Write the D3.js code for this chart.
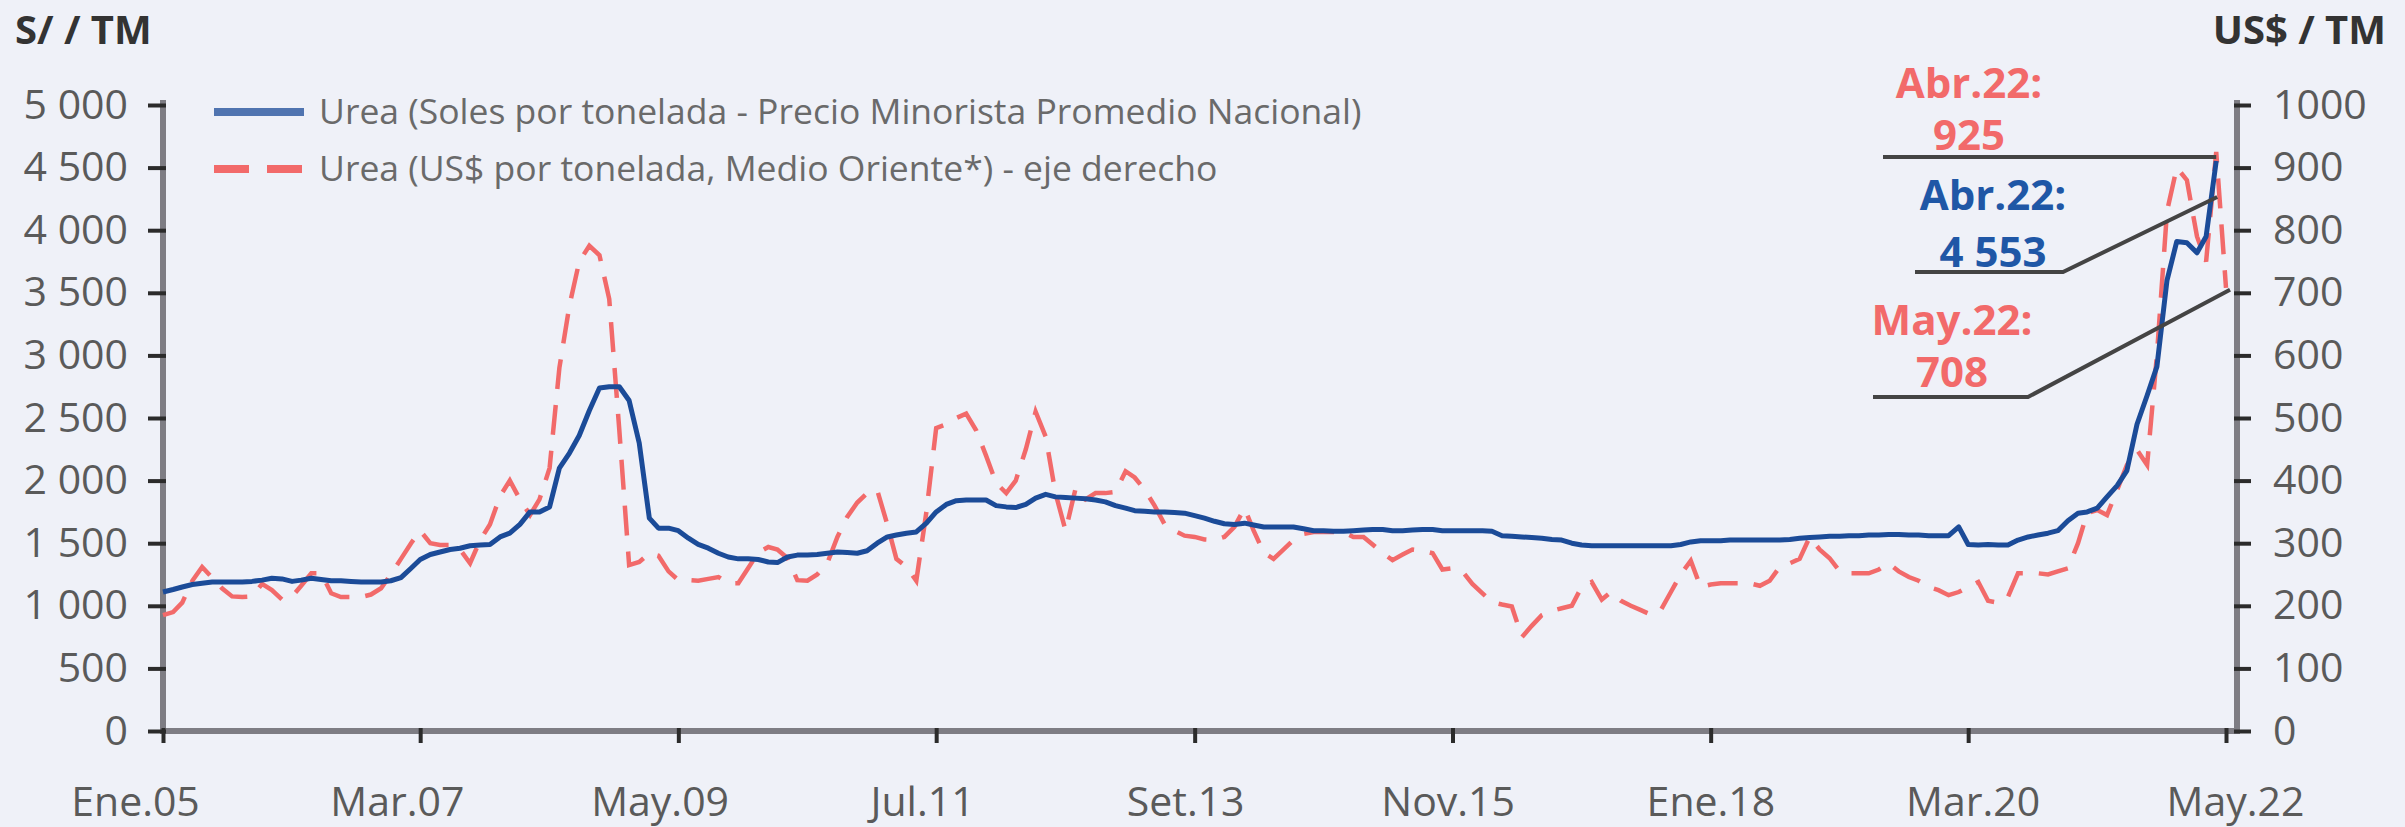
<!DOCTYPE html>
<html><head><meta charset="utf-8">
<script src="https://cdn.jsdelivr.net/npm/d3@7"></script>
<style>
html,body{margin:0;padding:0;background:#eff1f8;}
svg{display:block;}
text{font-family:"Open Sans","Noto Sans",sans-serif;}
</style></head><body>
<svg id="chart" width="2405" height="827"></svg>
<script>
// ---- DATA ----
const seriesStart = [2005, 0]; // Ene.05, monthly
const ureaSoles = [1110,1130,1150,1170,1180,1190,1190,1190,1190,1195,
1205,1220,1215,1195,1205,1220,1210,1200,1200,1195,
1190,1190,1190,1200,1225,1300,1370,1410,1430,1450,
1460,1480,1485,1490,1550,1580,1650,1750,1750,1790,
2100,2220,2360,2560,2740,2750,2750,2640,2300,1700,
1620,1620,1600,1540,1490,1460,1420,1390,1375,1375,
1370,1350,1345,1390,1405,1405,1410,1420,1430,1425,
1420,1440,1500,1550,1565,1580,1590,1660,1750,1810,
1840,1845,1845,1845,1800,1790,1785,1810,1860,1890,
1870,1865,1860,1855,1845,1830,1800,1780,1760,1755,
1750,1750,1745,1740,1720,1700,1675,1655,1650,1660,
1645,1630,1630,1630,1630,1615,1600,1600,1595,1595,
1600,1605,1610,1610,1600,1600,1605,1610,1610,1600,
1600,1600,1600,1600,1595,1560,1555,1550,1545,1540,
1530,1525,1500,1485,1480,1480,1480,1480,1480,1480,
1480,1480,1480,1490,1510,1520,1520,1520,1525,1525,
1525,1525,1525,1525,1530,1540,1545,1550,1555,1555,
1560,1560,1565,1565,1570,1570,1565,1565,1560,1560,
1560,1630,1490,1485,1490,1485,1485,1525,1550,1565,
1580,1600,1680,1740,1750,1780,1870,1960,2080,2450,
2680,2910,3600,3910,3900,3820,3950,4553];
const ureaUsd = [185,190,205,240,262,245,228,215,214,215,
235,225,210,215,232,252,252,220,214,214,
214,218,228,250,275,300,320,300,297,297,
290,268,305,330,375,400,370,345,370,420,
580,680,750,775,760,690,480,265,270,284,
280,255,241,241,240,243,246,236,236,260,
285,294,290,276,241,240,250,268,310,342,
365,380,385,330,275,262,240,350,484,490,
500,507,480,440,396,380,400,450,510,470,
380,320,388,370,380,380,382,415,405,385,
360,330,320,312,310,306,305,310,326,356,
320,285,275,290,305,315,318,318,318,318,
310,310,298,284,273,282,290,288,284,258,
260,255,235,220,206,202,199,150,168,185,
192,196,200,230,238,210,222,208,200,193,
186,193,222,250,272,230,234,236,236,236,
236,232,240,262,268,275,310,290,276,255,
252,252,252,258,268,255,246,240,230,225,
217,222,230,238,208,205,214,252,252,252,
250,255,260,300,348,353,345,385,425,449,
425,600,830,900,880,790,750,925,708];
const tickMonths = ["2005-01","2007-03","2009-05","2011-07","2013-09","2015-11","2018-01","2020-03","2022-05"];
const tickLabels = ["Ene.05","Mar.07","May.09","Jul.11","Set.13","Nov.15","Ene.18","Mar.20","May.22"];
const leftTicks = [0,500,1000,1500,2000,2500,3000,3500,4000,4500,5000];
const rightTicks = [0,100,200,300,400,500,600,700,800,900,1000];
const legendLabels = ["Urea (Soles por tonelada - Precio Minorista Promedio Nacional)",
                      "Urea (US$ por tonelada, Medio Oriente*) - eje derecho"];
const axisTitles = ["S/ / TM", "US$ / TM"];
const callouts = [
  {series:"usd",  month:"2022-04", head:"Abr.22:", val:"925"},
  {series:"soles",month:"2022-04", head:"Abr.22:", val:"4 553"},
  {series:"usd",  month:"2022-05", head:"May.22:", val:"708"}
];

// ---- SETUP ----
const BLUE = "#1b4b98", RED = "#f26a6a", AXIS = "#7e7d84", TICK = "#2b2b2b";
const svg = d3.select("#chart");
const monthDate = i => new Date(seriesStart[0], seriesStart[1] + i, 1);
const parseM = s => { const [y,m] = s.split("-").map(Number); return new Date(y, m-1, 1); };
const monthIndex = d => (d.getFullYear()-seriesStart[0])*12 + d.getMonth() - seriesStart[1];

const xDomain = [new Date(2005,0,1), new Date(2022,4,1)];
const x = d3.scaleTime().domain(xDomain).range([163, 2226]);
const xLabel = d3.scaleTime().domain(xDomain).range([135, 2235]); // label placement as in source
const yL = d3.scaleLinear().domain([0,5000]).range([731,105]);
const yR = d3.scaleLinear().domain([0,1000]).range([731,105]);
const plotL = 163, plotR = 2237, plotB = 731, plotT = 100;

const fmtL = d3.formatLocale({decimal:",", thousands:" ", grouping:[3], currency:["",""]}).format(",");

svg.append("rect").attr("width",2405).attr("height",827).attr("fill","#eff1f8");

// axis lines (gray)
svg.append("g").attr("stroke",AXIS).attr("stroke-width",6).selectAll("line")
  .data([[plotL,plotT,plotL,plotB+3],[plotL-3,plotB,plotR+3,plotB],[plotR,plotT,plotR,plotB+3]])
  .join("line").attr("x1",d=>d[0]).attr("y1",d=>d[1]).attr("x2",d=>d[2]).attr("y2",d=>d[3]);

function styleAxis(g){
  g.select(".domain").remove();
  g.selectAll(".tick line").attr("stroke",TICK).attr("stroke-width",4);
  g.selectAll(".tick text").attr("fill","#5a5a5a").attr("font-size",41);
}
const gL = svg.append("g").attr("transform",`translate(${plotL},0)`)
  .call(d3.axisLeft(yL).tickValues(leftTicks).tickFormat(fmtL).tickSize(15).tickPadding(20));
styleAxis(gL); gL.selectAll(".tick line").attr("x1",3);
const gR = svg.append("g").attr("transform",`translate(${plotR},0)`)
  .call(d3.axisRight(yR).tickValues(rightTicks).tickFormat(d3.format("d")).tickSize(14).tickPadding(22));
styleAxis(gR); gR.selectAll(".tick line").attr("x1",-3);
const gB = svg.append("g").attr("transform",`translate(0,${plotB})`)
  .call(d3.axisBottom(x).tickValues(tickMonths.map(parseM)).tickFormat((d,i)=>tickLabels[i]).tickSize(12).tickPadding(44));
styleAxis(gB); gB.selectAll(".tick line").attr("y1",-3);
gB.selectAll(".tick text").attr("dx", d => xLabel(d) - x(d));

// series
const usdPts = ureaUsd.map((v,i)=>[monthDate(i), v]);
const solPts = ureaSoles.map((v,i)=>[monthDate(i), v]);
svg.append("path").datum(usdPts).attr("fill","none").attr("stroke",RED).attr("stroke-width",4.5)
  .attr("stroke-dasharray","30,16")
  .attr("d", d3.line().x(d=>x(d[0])).y(d=>yR(d[1])));
svg.append("path").datum(solPts).attr("fill","none").attr("stroke",BLUE).attr("stroke-width",5)
  .attr("stroke-linejoin","round")
  .attr("d", d3.line().x(d=>x(d[0])).y(d=>yL(d[1])));

// titles
svg.append("text").attr("x",15).attr("y",44).attr("font-size",40).attr("font-weight",700).attr("fill","#333").text(axisTitles[0]);
svg.append("text").attr("x",2386).attr("y",44).attr("text-anchor","end").attr("font-size",40).attr("font-weight",700).attr("fill","#333").text(axisTitles[1]);

// legend
const lg = svg.append("g");
lg.append("line").attr("x1",214).attr("x2",304).attr("y1",112).attr("y2",112).attr("stroke",BLUE).attr("stroke-width",8).attr("opacity",0.75);
lg.append("line").attr("x1",214).attr("x2",304).attr("y1",169).attr("y2",169).attr("stroke",RED).attr("stroke-width",8).attr("stroke-dasharray","35,18");
lg.selectAll("text").data(legendLabels).join("text")
  .attr("x",319).attr("y",(d,i)=>112+i*57).attr("dy","0.35em").attr("font-size",35.5).attr("fill","#6a6a6a").text(d=>d);

// callouts
function pt(c){
  const d = parseM(c.month), i = monthIndex(d);
  return c.series==="usd" ? [x(d), yR(ureaUsd[i])] : [x(d), yL(ureaSoles[i])];
}
const calloutLayout = [
  {cx:1969, y1:98, y2:150, line:(p)=>[[1883,p[1]+5],[p[0],p[1]+5]], color:RED},
  {cx:1993, y1:210, y2:267, line:(p)=>[[1915,272],[2063,272],[p[0]+1,p[1]+36]], color:"#1f57a6"},
  {cx:1952, y1:335, y2:387, line:(p)=>[[1873,397],[2028,397],[p[0]+4,p[1]+2]], color:RED}
];
callouts.forEach((c,k)=>{
  const L = calloutLayout[k], p = pt(c);
  svg.append("path").attr("d", d3.line()(L.line(p))).attr("fill","none").attr("stroke","#444").attr("stroke-width",4);
  svg.append("text").attr("x",L.cx).attr("y",L.y1).attr("text-anchor","middle").attr("font-size",42).attr("font-weight",700).attr("fill",L.color).text(c.head);
  svg.append("text").attr("x",L.cx).attr("y",L.y2).attr("text-anchor","middle").attr("font-size",42).attr("font-weight",700).attr("fill",L.color).text(c.val);
});
</script>
</body></html>
